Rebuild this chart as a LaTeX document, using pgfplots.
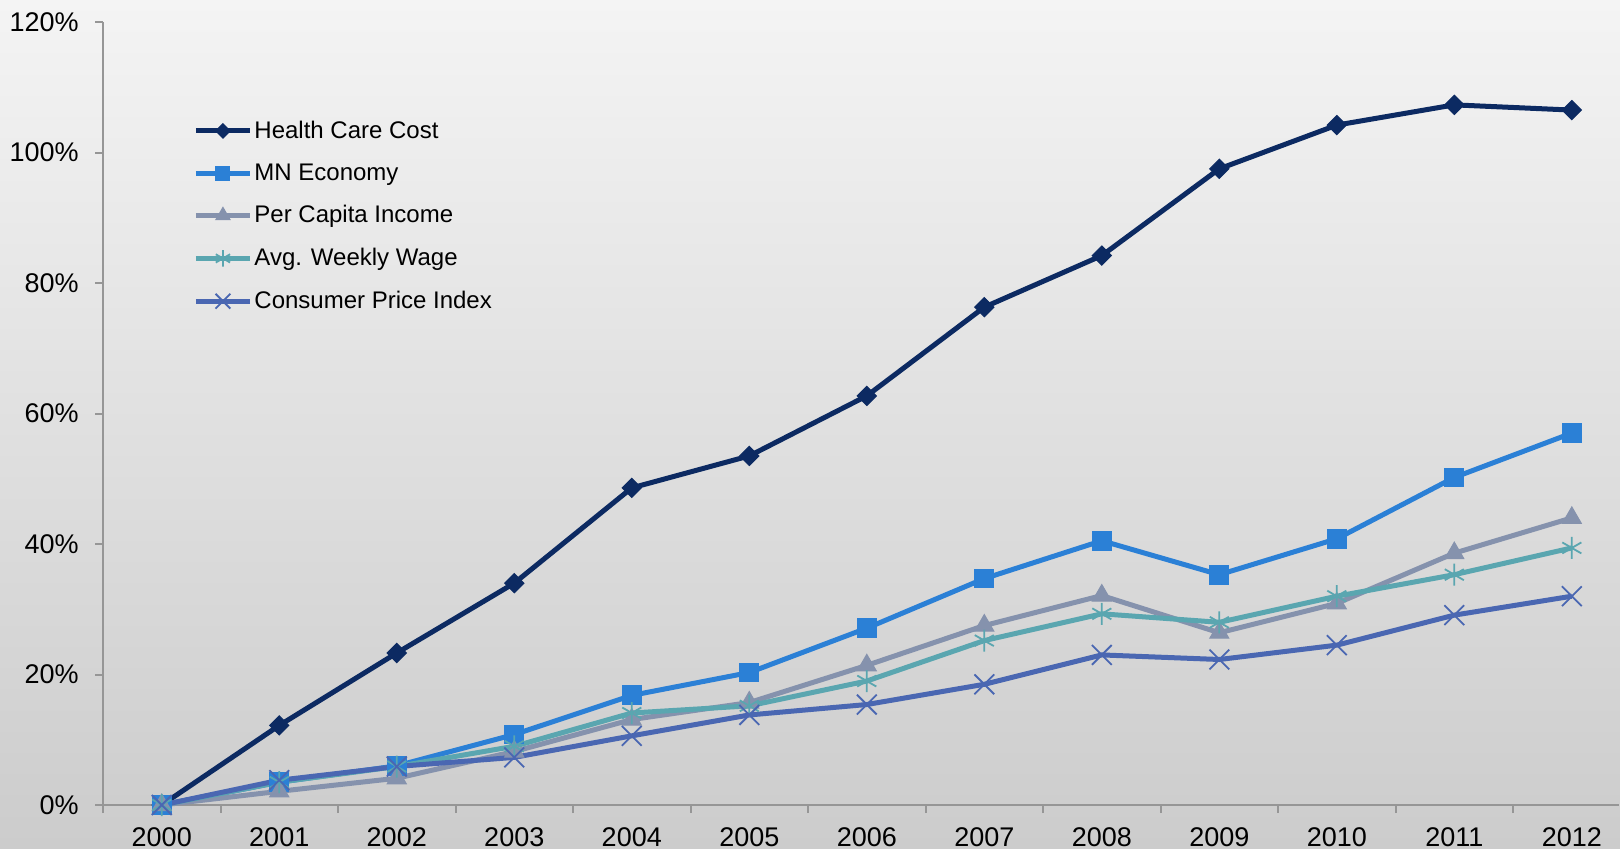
\documentclass[border=0pt]{standalone}
\usepackage{pgfplots}
\pgfplotsset{compat=1.18}
\usepackage{fontspec}
\setmainfont{Liberation Sans}
\usetikzlibrary{plotmarks}
\definecolor{hc}{RGB}{12,42,98}
\definecolor{mn}{RGB}{43,128,214}
\definecolor{pci}{RGB}{133,146,173}
\definecolor{aww}{RGB}{90,166,176}
\definecolor{cpi}{RGB}{74,103,178}
\definecolor{bgtop}{RGB}{244,244,244}
\definecolor{bgbot}{RGB}{204,204,204}
\definecolor{axisgray}{RGB}{150,150,150}
\begin{document}
\begin{tikzpicture}
\useasboundingbox (0,0) rectangle (810pt,424pt);
\shade[top color=bgtop, bottom color=bgbot] (0,0) rectangle (810pt,424pt);
\begin{axis}[
  at={(51.5pt,21.5pt)}, anchor=south west,
  scale only axis, width=757.9pt, height=391.5pt,
  xmin=-0.5, xmax=12.4, ymin=0, ymax=120,
  axis lines*=left,
  axis line style={draw=axisgray, line width=1pt},
  xtick={0,1,2,3,4,5,6,7,8,9,10,11,12},
  xticklabels={2000,2001,2002,2003,2004,2005,2006,2007,2008,2009,2010,2011,2012},
  ytick={0,20,40,60,80,100,120},
  yticklabel={\pgfmathprintnumber{\tick}\%},
  minor xtick={-0.5,0.5,1.5,2.5,3.5,4.5,5.5,6.5,7.5,8.5,9.5,10.5,11.5},
  minor ytick={0,20,40,60,80,100,120},
  major tick length=0pt, minor tick length=4pt, tick align=outside,
  minor tick style={draw=axisgray, line width=1pt},
  tick label style={font=\fontsize{13.5}{15}\selectfont, text=black},
  yticklabel style={xshift=-8.6pt},
  xticklabel style={yshift=-8pt},
  /pgf/number format/assume math mode=true,
  clip=false,
  legend cell align=left,
  legend style={at={(axis description cs:0.0594,0.877)}, anchor=north west,
    draw=none, fill=none, font=\fontsize{12}{14}\selectfont,
    row sep=9.2pt, inner sep=0pt, nodes={inner sep=1pt}},
  legend image code/.code={
    \draw[mark repeat=2,mark phase=2, every mark/.append style={scale=0.75}]
      plot coordinates {(0pt,0pt) (13.5pt,0pt) (27pt,0pt)};},
]
\addplot[color=hc, line width=2.5pt, mark=square*, mark size=3.4pt,
  mark options={solid, fill=hc, line width=0.5pt, rotate=45}] coordinates {
(0,0) (1,12.2) (2,23.3) (3,34.0) (4,48.6) (5,53.5) (6,62.7) (7,76.3) (8,84.2) (9,97.5) (10,104.2) (11,107.3) (12,106.5)};
\addlegendentry{Health Care Cost}
\addplot[color=mn, line width=2.5pt, mark=square*, mark size=4.7pt,
  mark options={solid, fill=mn, line width=0.5pt}] coordinates {
(0,0) (1,3.5) (2,6.0) (3,10.8) (4,16.8) (5,20.3) (6,27.1) (7,34.7) (8,40.5) (9,35.3) (10,40.8) (11,50.2) (12,57.0)};
\addlegendentry{MN Economy}
\addplot[color=pci, line width=2.5pt, mark=triangle*, mark size=5.5pt,
  mark options={solid, fill=pci, line width=0.5pt}] coordinates {
(0,0) (1,2.1) (2,4.1) (3,8.2) (4,13.1) (5,15.7) (6,21.4) (7,27.5) (8,32.1) (9,26.4) (10,30.9) (11,38.6) (12,44.0)};
\addlegendentry{Per Capita Income}
\addplot[color=aww, line width=2.5pt, mark=asterisk, mark size=5.5pt,
  mark options={solid, line width=0.9pt}] coordinates {
(0,0) (1,3.5) (2,5.9) (3,9.0) (4,14.1) (5,15.2) (6,19.0) (7,25.2) (8,29.3) (9,28.0) (10,32.0) (11,35.3) (12,39.4)};
\addlegendentry{Avg. Weekly Wage}
\addplot[color=cpi, line width=2.5pt, mark=x, mark size=7pt,
  mark options={solid, line width=0.9pt}] coordinates {
(0,0) (1,3.8) (2,5.9) (3,7.3) (4,10.6) (5,13.8) (6,15.4) (7,18.5) (8,23.0) (9,22.3) (10,24.5) (11,29.1) (12,32.0)};
\addlegendentry{Consumer Price Index}
\end{axis}
\end{tikzpicture}
\end{document}
